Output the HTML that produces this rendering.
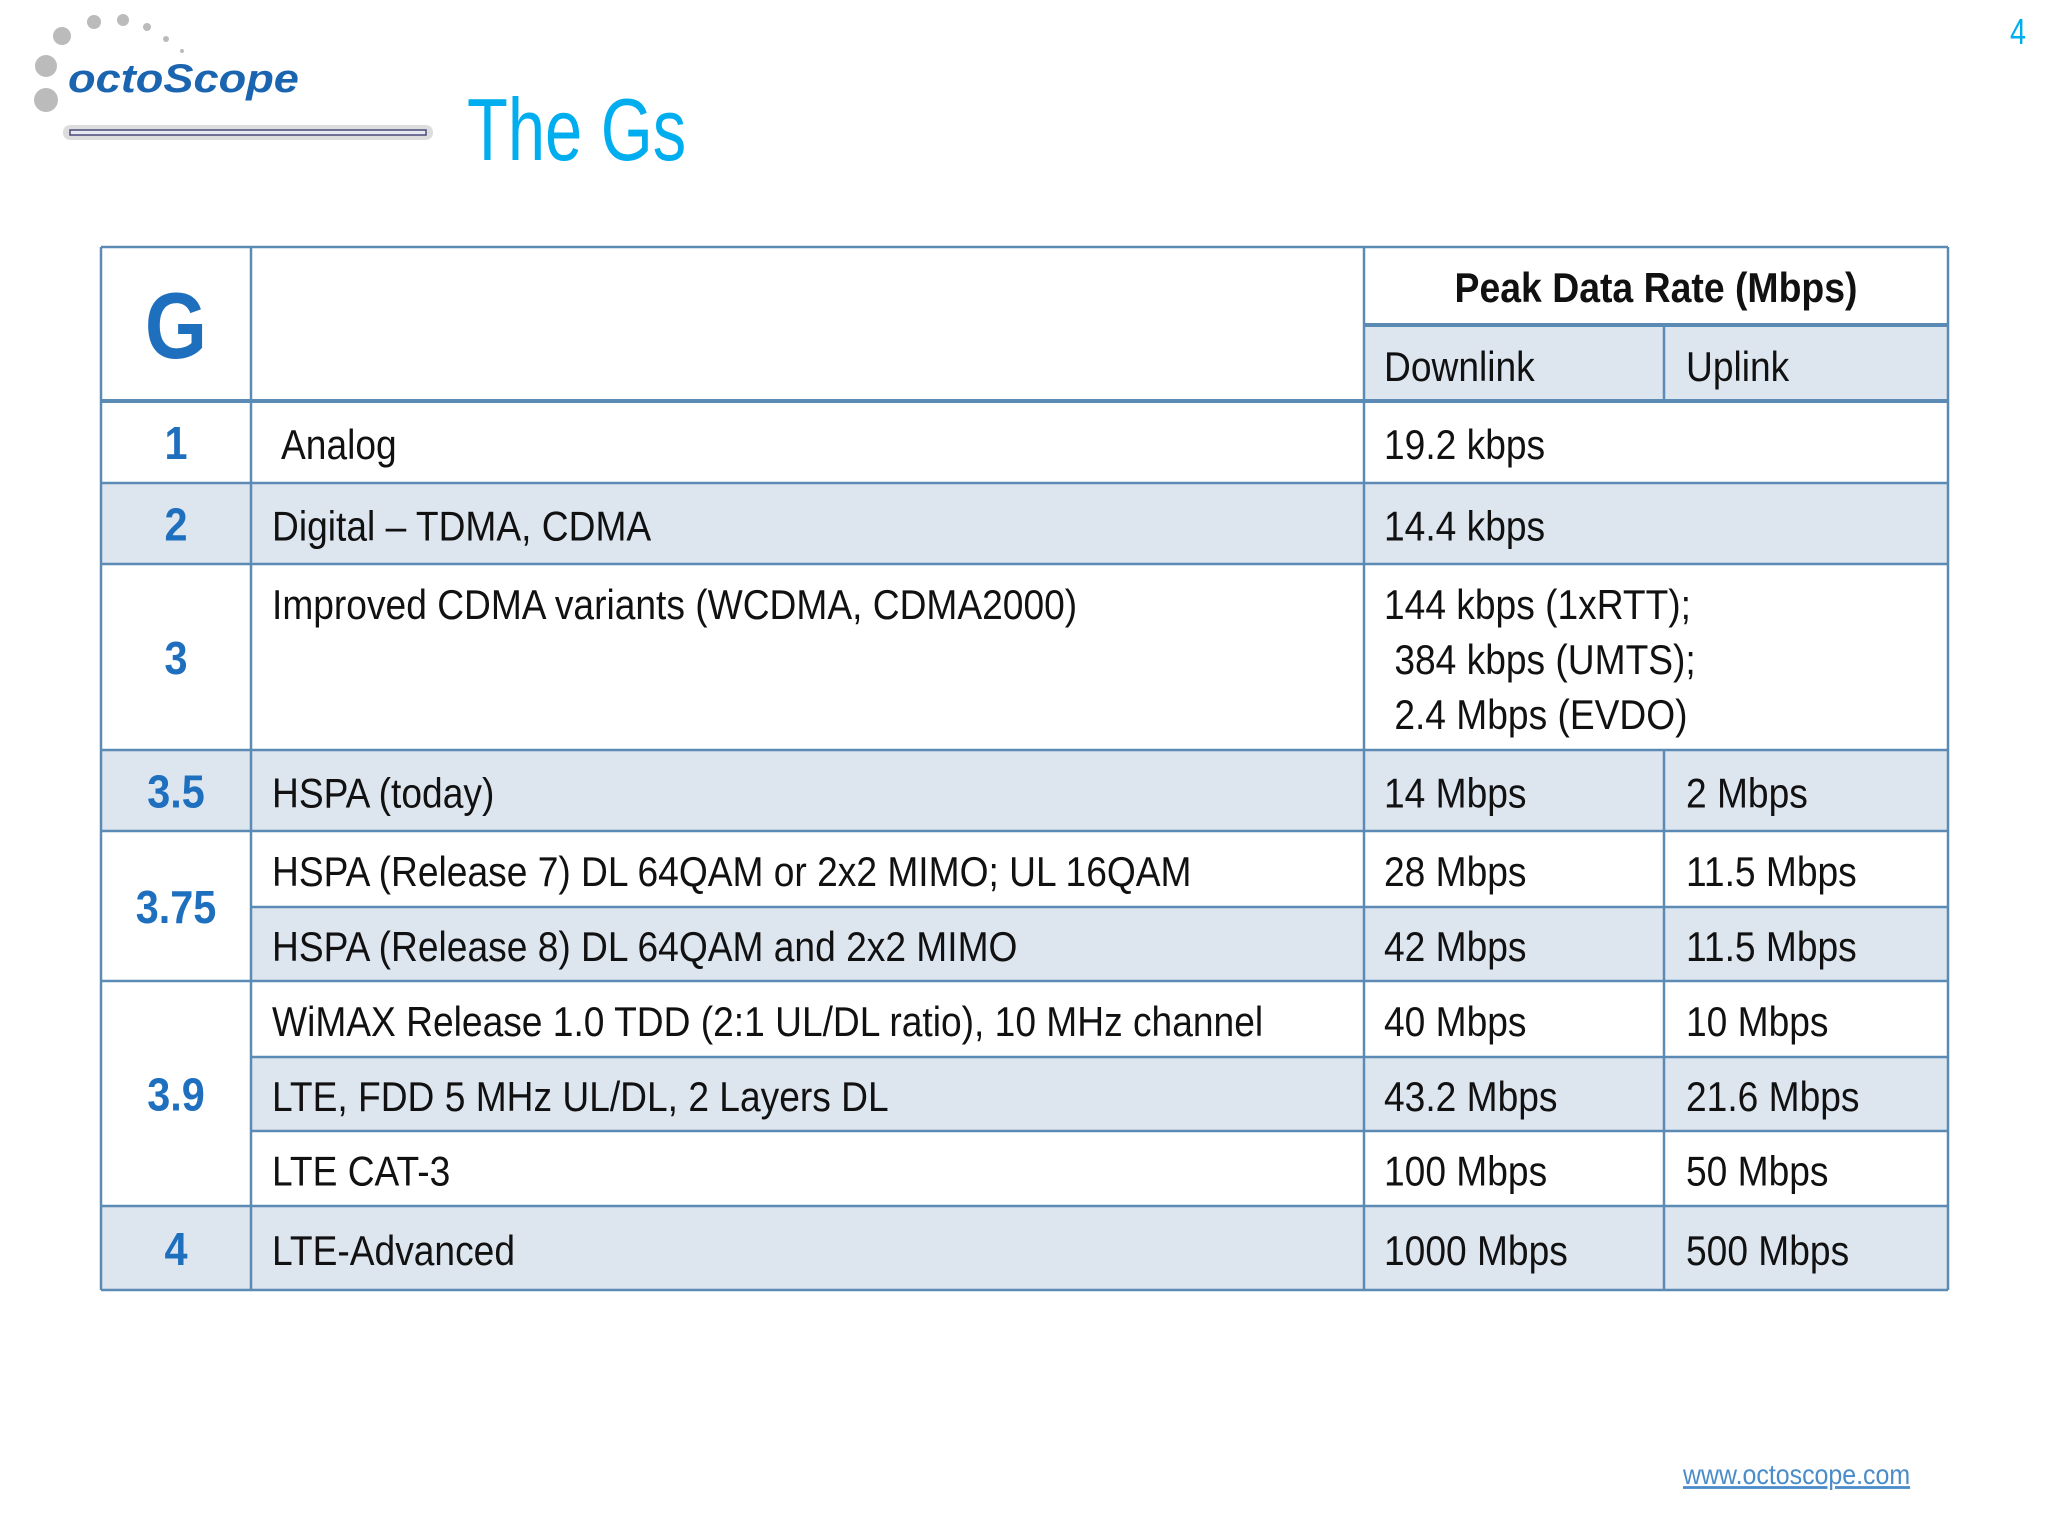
<!DOCTYPE html>
<html><head><meta charset="utf-8"><style>
html,body{margin:0;padding:0;background:#fff}
svg{display:block}
text{font-family:"Liberation Sans",sans-serif;white-space:pre}
</style></head><body>
<svg id="s" width="2048" height="1536" viewBox="0 0 2048 1536" xmlns="http://www.w3.org/2000/svg">
<g>
<circle cx="62" cy="36" r="9" fill="#bbb"/><circle cx="94" cy="22" r="7" fill="#bbb"/><circle cx="123" cy="20" r="6" fill="#bbb"/><circle cx="147" cy="27" r="4" fill="#bbb"/><circle cx="166" cy="39" r="3" fill="#bbb"/><circle cx="182" cy="51" r="2" fill="#bbb"/>
<circle cx="46" cy="66" r="11" fill="#bbb"/><circle cx="46" cy="100" r="12" fill="#bbb"/>
<text x="68" y="92" font-size="40" font-weight="bold" font-style="italic" fill="#1b64b0" transform="translate(68,0) scale(1.13,1) translate(-68,0)">octoScope</text>
<rect x="63" y="125" width="370" height="15" rx="7" fill="#ddd"/>
<rect x="70" y="130" width="356" height="5" fill="#e8e8f2" stroke="#4a4a7a" stroke-width="1.5"/>
</g>
<text font-size="88" fill="#00aeef" transform="translate(467,160) scale(0.76,1)">The Gs</text>
<text font-size="36" fill="#00aeef" transform="translate(2010,44) scale(0.8,1)">4</text>
<g id="tbl"></g>
<text font-size="28" fill="#4a8cc9" text-decoration="underline" transform="translate(1683,1484) scale(0.89,1)">www.octoscope.com</text>
</svg>
<script>
const gens=["1","2","3","3.5","3.75","3.75","3.9","3.9","3.9","4"];
const techs=[["Analog"],["Digital – TDMA, CDMA"],["Improved CDMA variants (WCDMA, CDMA2000)"],["HSPA (today)"],["HSPA (Release 7) DL 64QAM or 2x2 MIMO; UL 16QAM"],["HSPA (Release 8) DL 64QAM and 2x2 MIMO"],["WiMAX Release 1.0 TDD (2:1 UL/DL ratio), 10 MHz channel"],["LTE, FDD 5 MHz UL/DL, 2 Layers DL"],["LTE CAT-3"],["LTE-Advanced"]];
const downlink=[["19.2 kbps"],["14.4 kbps"],["144 kbps (1xRTT);"," 384 kbps (UMTS);"," 2.4 Mbps (EVDO)"],["14 Mbps"],["28 Mbps"],["42 Mbps"],["40 Mbps"],["43.2 Mbps"],["100 Mbps"],["1000 Mbps"]];
const uplink=["","","","2 Mbps","11.5 Mbps","11.5 Mbps","10 Mbps","21.6 Mbps","50 Mbps","500 Mbps"];
const rowLines=[401,483,564,750,831,907,981,1057,1131,1206,1290];
const shaded=[false,true,false,true,false,true,false,true,false,true];
const NS="http://www.w3.org/2000/svg";
const T=document.getElementById('tbl');
const L=101,C1=251,C2=1364,C3=1664,R=1948,TOP=247,SUB=325;
const BC="#5b8bb5",FILL="#dde5ef";
const SX=0.885;
function el(tag,at){const e=document.createElementNS(NS,tag);for(const k in at)e.setAttribute(k,at[k]);T.appendChild(e);return e;}
function txt(s,x,y,size,opt){opt=opt||{};const e=el('text',{'font-size':size,fill:opt.fill||'#111','font-weight':opt.bold?'bold':'normal','text-anchor':opt.anchor||'start',transform:`translate(${x},${y}) scale(${opt.sx||SX},1)`});e.textContent=s;return e;}
let h=el('rect',{x:C2,y:SUB,width:R-C2,height:rowLines[0]-SUB,fill:FILL});


for(let i=0;i<gens.length;i++){
  const y0=rowLines[i],y1=rowLines[i+1];
  if(shaded[i]){const r=el('rect',{x:L,y:y0,width:R-L,height:y1-y0,fill:FILL});
    
    }
}
const genGroups=[[0,1],[1,2],[2,3],[3,4],[4,6],[6,9],[9,10]];
genGroups.forEach(g=>{
  const y0=rowLines[g[0]],y1=rowLines[g[1]];
  if(g[1]-g[0]>1){el('rect',{x:L,y:y0,width:C1-L,height:y1-y0,fill:'#fff'});}
  const lab=gens[g[0]];
  const t=txt(lab,(L+C1)/2,(y0+y1)/2+17,46,{bold:true,fill:'#1f6fbf',anchor:'middle',sx:0.9});
  
  
});
for(let i=0;i<gens.length;i++){
  const y0=rowLines[i],y1=rowLines[i+1];
  const multi=downlink[i].length>1;
  const base=multi?y0+55:(y0+y1)/2+17;
  techs[i].forEach((s,k)=>{const t=txt(s,i===0?281:272,base+k*55,42);
    
    });
  downlink[i].forEach((s,k)=>{const t=txt(s,1384,base+k*55,42);
    
    });
  if(uplink[i]){const t=txt(uplink[i],1686,base,42);
    
    }
}
let g1=txt('G',(L+C1)/2,358,94,{bold:true,fill:'#1f6fbf',anchor:'middle',sx:0.85});


let p=txt('Peak Data Rate (Mbps)',(C2+R)/2,302,42,{bold:true,anchor:'middle',sx:0.89});


let d=txt('Downlink',1384,381,42);


let u=txt('Uplink',1686,381,42);


function ln(x1,y1,x2,y2,w){el('line',{x1,y1,x2,y2,stroke:BC,'stroke-width':w||2.5});}
ln(L,TOP,R,TOP);ln(C2,SUB,R,SUB,4);
ln(L,rowLines[0],R,rowLines[0],4);
for(let i=1;i<rowLines.length;i++){
  const y=rowLines[i];
  if(i===5||i===7||i===8) ln(C1,y,R,y); else ln(L,y,R,y);
}
ln(L,TOP,L,1290);ln(C1,TOP,C1,1290);ln(C2,TOP,C2,1290);ln(R,TOP,R,1290);
ln(C3,SUB,C3,rowLines[0]);
ln(C3,rowLines[3],C3,1290);
</script>
</body></html>
